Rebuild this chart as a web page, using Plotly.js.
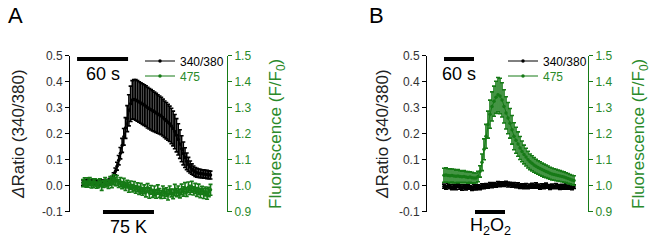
<!DOCTYPE html>
<html>
<head>
<meta charset="utf-8">
<script src="https://cdn.plot.ly/plotly-3.0.1.min.js"></script>
<style>html,body{margin:0;padding:0;background:#fff;}#chart{width:657px;height:241px;}</style>
</head>
<body>
<div id="chart"></div>
<script>
// ---------- Panel A (75 K), time in s, 2 s sampling ----------
const timeA = [0,2,4,6,8,10,12,14,16,18,20,22,24,26,28,30,32,34,36,38,40,42,44,46,48,50,52,54,56,58,60,62,64,66,68,70,72,74,76,78,80,82,84,86,88,90,92,94,96,98,100,102,104,106,108,110,112,114,116,118,120,122,124,126,128,130,132,134,136,138,140,142,144,146,148,150];
const ratioA = [0.012,0.014,0.010,0.015,0.013,0.011,0.016,0.012,0.010,0.014,0.013,0.011,0.012,0.010,0.013,0.015,0.018,0.026,0.038,0.055,0.075,0.098,0.125,0.155,0.188,0.222,0.258,0.290,0.315,0.330,0.332,0.330,0.326,0.322,0.318,0.314,0.310,0.306,0.300,0.296,0.292,0.288,0.284,0.280,0.276,0.272,0.268,0.262,0.256,0.250,0.244,0.238,0.230,0.220,0.208,0.194,0.178,0.160,0.142,0.124,0.108,0.094,0.082,0.072,0.064,0.058,0.053,0.050,0.048,0.047,0.046,0.045,0.044,0.043,0.042,0.041];
const ratioErrA = [0.010,0.009,0.011,0.010,0.008,0.010,0.009,0.011,0.010,0.009,0.010,0.011,0.009,0.010,0.010,0.010,0.010,0.010,0.012,0.013,0.015,0.018,0.022,0.027,0.032,0.040,0.050,0.060,0.068,0.074,0.076,0.078,0.078,0.078,0.078,0.078,0.078,0.078,0.078,0.078,0.078,0.077,0.076,0.075,0.074,0.073,0.072,0.071,0.070,0.070,0.069,0.068,0.068,0.067,0.066,0.064,0.060,0.055,0.050,0.044,0.038,0.032,0.027,0.023,0.020,0.018,0.017,0.017,0.016,0.016,0.015,0.016,0.015,0.016,0.015,0.015];
const fluoA = [1.010,1.014,1.006,1.012,1.016,1.004,1.010,1.013,1.002,1.008,1.012,1.000,1.006,1.015,1.009,1.004,1.018,1.012,1.024,1.016,1.020,1.008,1.014,1.002,1.010,0.998,1.006,0.994,1.002,0.990,0.998,0.986,0.994,0.982,0.990,0.978,0.986,0.975,0.992,0.972,0.984,0.970,0.980,0.968,0.985,0.972,0.966,0.980,0.970,0.976,0.965,0.982,0.972,0.968,0.984,0.974,0.980,0.970,0.986,0.978,0.990,0.976,0.994,0.984,0.996,0.980,0.990,0.976,0.986,0.972,0.982,0.970,0.978,0.968,0.976,0.984];
const fluoErrA = [0.014,0.016,0.012,0.018,0.015,0.013,0.017,0.014,0.012,0.016,0.015,0.018,0.013,0.016,0.014,0.015,0.017,0.020,0.018,0.016,0.019,0.015,0.017,0.014,0.018,0.016,0.015,0.019,0.016,0.014,0.018,0.015,0.017,0.016,0.019,0.015,0.017,0.018,0.016,0.020,0.017,0.015,0.019,0.016,0.018,0.017,0.015,0.019,0.018,0.016,0.020,0.017,0.015,0.018,0.021,0.016,0.019,0.017,0.020,0.018,0.022,0.017,0.020,0.018,0.021,0.016,0.019,0.017,0.020,0.018,0.016,0.019,0.017,0.020,0.018,0.021];

// ---------- Panel B (H2O2), time in s, 4 s sampling ----------
const timeB = [0,4,8,12,16,20,24,28,32,36,40,44,48,52,56,60,64,68,72,76,80,84,88,92,96,100,104,108,112,116,120,124,128,132,136,140,144,148,152,156,160,164,168,172,176,180,184,188,192,196,200,204,208,212,216,220,224,228,232,236,240,244,248,252,256,260];
const ratioB = [-0.002,-0.006,0.001,-0.004,-0.008,-0.003,-0.006,0.000,-0.005,-0.009,-0.004,-0.007,-0.002,-0.006,-0.010,-0.005,-0.008,-0.004,-0.007,-0.002,-0.004,0.001,-0.002,0.003,0.000,0.005,0.002,0.007,0.004,0.008,0.005,0.009,0.004,0.006,0.002,0.004,-0.001,0.002,-0.003,0.000,-0.004,-0.001,-0.005,-0.002,0.001,-0.003,0.002,-0.002,-0.006,-0.001,-0.004,0.001,-0.003,-0.006,-0.002,-0.005,-0.001,-0.004,-0.007,-0.003,-0.005,-0.002,-0.006,-0.003,-0.007,-0.004];
const ratioErrB = [0.008,0.007,0.009,0.008,0.007,0.008,0.009,0.007,0.008,0.008,0.007,0.009,0.008,0.007,0.008,0.009,0.008,0.007,0.008,0.009,0.008,0.007,0.008,0.009,0.008,0.007,0.008,0.009,0.008,0.007,0.008,0.008,0.009,0.007,0.008,0.008,0.007,0.009,0.008,0.007,0.008,0.009,0.007,0.008,0.008,0.007,0.009,0.008,0.007,0.008,0.008,0.009,0.007,0.008,0.008,0.007,0.009,0.008,0.007,0.008,0.008,0.009,0.007,0.008,0.008,0.007];
const fluoB = [1.040,1.041,1.039,1.038,1.039,1.037,1.036,1.037,1.035,1.034,1.035,1.033,1.032,1.033,1.031,1.030,1.030,1.035,1.055,1.090,1.140,1.190,1.235,1.275,1.305,1.325,1.340,1.350,1.345,1.330,1.305,1.280,1.260,1.240,1.215,1.190,1.175,1.160,1.145,1.132,1.120,1.110,1.100,1.092,1.086,1.080,1.075,1.070,1.066,1.062,1.058,1.055,1.052,1.048,1.045,1.043,1.041,1.039,1.037,1.035,1.033,1.031,1.028,1.025,1.022,1.020];
const fluoErrB = [0.027,0.028,0.026,0.027,0.025,0.026,0.024,0.025,0.023,0.022,0.023,0.021,0.022,0.020,0.021,0.019,0.019,0.020,0.022,0.032,0.040,0.046,0.052,0.054,0.056,0.058,0.062,0.066,0.068,0.066,0.064,0.062,0.060,0.057,0.055,0.052,0.050,0.047,0.044,0.040,0.036,0.034,0.032,0.030,0.029,0.028,0.027,0.026,0.026,0.025,0.025,0.024,0.024,0.023,0.023,0.022,0.022,0.021,0.021,0.020,0.020,0.019,0.019,0.018,0.018,0.018];

// ---------- labels ----------
const seriesNames = ['340/380', '475'];
const leftTicks = [-0.1, 0.0, 0.1, 0.2, 0.3, 0.4, 0.5];
const leftTickText = ['-0.1', '0.0', '0.1', '0.2', '0.3', '0.4', '0.5'];
const rightTicks = [0.9, 1.0, 1.1, 1.2, 1.3, 1.4, 1.5];
const rightTickText = ['0.9', '1.0', '1.1', '1.2', '1.3', '1.4', '1.5'];
const scaleBarSec = 60;
const scaleStartA = -7, stimA = [23.5, 83.5], stimLabelA = '75 K';
const scaleStartB = 0, stimB = [62, 122], stimLabelB = 'H<sub>2</sub>O<sub>2</sub>';

const W = 657, H = 241;
const GREEN = '#167a16';
const GREEN_TEXT = '#2a8a2a';
const FONT = 'Arial, "Liberation Sans", sans-serif';
const px = v => v / W;
const py = v => 1 - v / H;

function trace(x, y, err, xa, ya, color, name, leg) {
  return {
    type: 'scatter', mode: 'lines+markers', x: x, y: y, xaxis: xa, yaxis: ya,
    name: name, legend: leg,
    line: {color: color, width: 1},
    marker: {color: color, size: 3.5},
    error_y: {type: 'data', array: err, visible: true, color: color, thickness: 1.6, width: 2}
  };
}

const data = [
  trace(timeA, ratioA, ratioErrA, 'x', 'y', '#000', seriesNames[0], 'legend'),
  trace(timeA, fluoA, fluoErrA, 'x', 'y2', GREEN, seriesNames[1], 'legend2'),
  trace(timeB, fluoB, fluoErrB, 'x2', 'y4', GREEN, seriesNames[1], 'legend4'),
  trace(timeB, ratioB, ratioErrB, 'x2', 'y3', '#000', seriesNames[0], 'legend3')
];

const yDom = [py(211.7), py(55.7)];
function leftAxis(anchor) {
  return {domain: yDom, range: [-0.1, 0.5], anchor: anchor, showline: true, linecolor: '#000', linewidth: 1,
    ticks: 'outside', ticklen: 4, tickcolor: '#000', tickvals: leftTicks, ticktext: leftTickText,
    tickfont: {family: FONT, size: 12, color: '#333'}, showgrid: false, zeroline: false, fixedrange: true};
}
function rightAxis(anchor, over) {
  return {domain: yDom, range: [0.9, 1.5], anchor: anchor, overlaying: over, side: 'right', showline: true,
    linecolor: GREEN, linewidth: 1, ticks: 'outside', ticklen: 4, tickcolor: GREEN, tickvals: rightTicks,
    ticktext: rightTickText, tickfont: {family: FONT, size: 12, color: GREEN_TEXT}, showgrid: false, zeroline: false};
}

function legendAt(x, y, color) {
  return {x: px(x), y: py(y), xanchor: 'left', yanchor: 'middle', bgcolor: 'rgba(0,0,0,0)',
    font: {family: FONT, size: 12, color: color}, tracegroupgap: 0, borderwidth: 0};
}

function ann(x, y, text, size, color, angle, xref) {
  return {xref: xref || 'paper', yref: 'paper', x: x, y: y, text: text, showarrow: false,
    xanchor: 'center', yanchor: 'middle', textangle: angle || 0,
    font: {family: FONT, size: size, color: color}};
}

const layout = {
  width: W, height: H, margin: {l: 0, r: 0, t: 0, b: 0},
  paper_bgcolor: '#fff', plot_bgcolor: 'rgba(0,0,0,0)',
  font: {family: FONT, size: 12, color: '#000'},
  xaxis: {domain: [px(70), px(227)], range: [-15.3, 169.4], visible: false, fixedrange: true},
  xaxis2: {domain: [px(427), px(588)], range: [-34, 288], visible: false, fixedrange: true},
  yaxis: leftAxis('x'),
  yaxis2: rightAxis('x', 'y'),
  yaxis3: leftAxis('x2'),
  yaxis4: rightAxis('x2', 'y3'),
  showlegend: true,
  legend: legendAt(140, 61, '#000'),
  legend2: legendAt(140, 76, GREEN_TEXT),
  legend3: legendAt(503, 61, '#000'),
  legend4: legendAt(503, 76, GREEN_TEXT),
  shapes: [
    {type: 'line', xref: 'x', yref: 'paper', x0: scaleStartA, x1: scaleStartA + scaleBarSec, y0: py(59), y1: py(59), line: {color: '#000', width: 4}},
    {type: 'line', xref: 'x', yref: 'paper', x0: stimA[0], x1: stimA[1], y0: py(212), y1: py(212), line: {color: '#000', width: 4}},
    {type: 'line', xref: 'x2', yref: 'paper', x0: scaleStartB, x1: scaleStartB + scaleBarSec, y0: py(59), y1: py(59), line: {color: '#000', width: 4}},
    {type: 'line', xref: 'x2', yref: 'paper', x0: stimB[0], x1: stimB[1], y0: py(212), y1: py(212), line: {color: '#000', width: 4}}
  ],
  annotations: [
    ann(px(15), py(15), 'A', 22, '#000'),
    ann(px(376), py(15), 'B', 22, '#000'),
    ann(px(18), py(134), '<i>Δ</i>Ratio (340/380)', 17, '#222', -90),
    ann(px(277), py(134), 'Fluorescence (F/F<sub>0</sub>)', 17, GREEN_TEXT, -90),
    ann(px(382), py(134), '<i>Δ</i>Ratio (340/380)', 17, '#222', -90),
    ann(px(640), py(134), 'Fluorescence (F/F<sub>0</sub>)', 17, GREEN_TEXT, -90),
    ann(scaleStartA + scaleBarSec / 2, py(74), '60 s', 18, '#000', 0, 'x'),
    ann((stimA[0] + stimA[1]) / 2, py(227), stimLabelA, 18, '#000', 0, 'x'),
    ann(scaleStartB + scaleBarSec / 2, py(74), '60 s', 18, '#000', 0, 'x2'),
    ann((stimB[0] + stimB[1]) / 2, py(226), stimLabelB, 18, '#000', 0, 'x2')
  ]
};

Plotly.newPlot('chart', data, layout, {staticPlot: true, displayModeBar: false});
</script>
</body>
</html>
